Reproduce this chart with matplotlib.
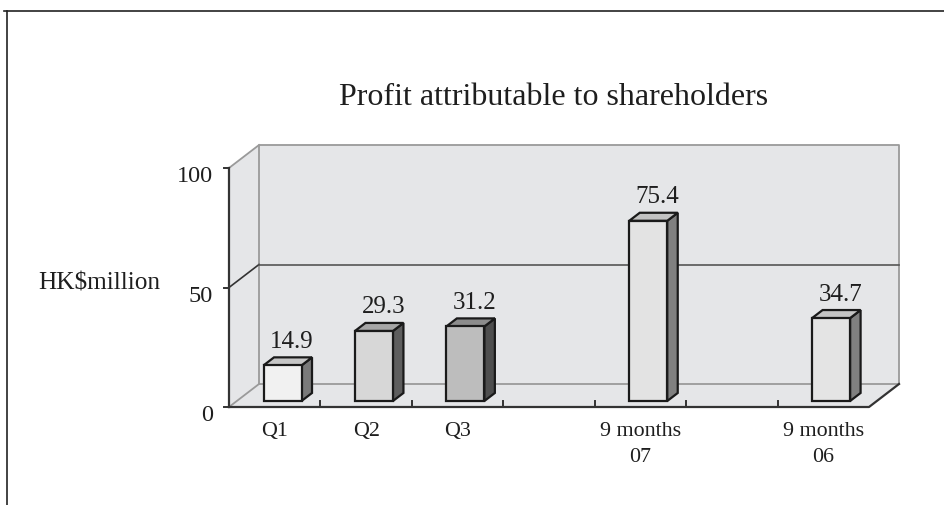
import matplotlib
matplotlib.use("Agg")
import matplotlib.pyplot as plt
from matplotlib.patches import Polygon
from matplotlib.lines import Line2D

# ---- data ----
categories = ["Q1", "Q2", "Q3", "", "9 months\n07", "", "9 months\n06"]
values = [14.9, 29.3, 31.2, None, 75.4, None, 34.7]
value_labels = ["14.9", "29.3", "31.2", "", "75.4", "", "34.7"]
yticks = [0, 50, 100]
title = "Profit attributable to shareholders"
ylabel = "HK$million"

# ---- styles ----
front_colors = ["#f1f1f1", "#d7d7d7", "#bdbdbd", None, "#e3e3e3", None, "#e4e4e4"]
top_colors = ["#c6c6c6", "#a6a6a6", "#8c8c8c", None, "#c2c2c2", None, "#c4c4c4"]
side_colors = ["#7a7a7a", "#5e5e5e", "#4e4e4e", None, "#808080", None, "#808080"]
wall_color = "#e5e6e8"
plt.rcParams['font.family'] = ['Liberation Serif', 'DejaVu Serif']
txt = "#1e1e1e"

W, H = 944, 506
fig = plt.figure(figsize=(W / 100, H / 100), dpi=100)
ax = fig.add_axes([0, 0, 1, 1])
ax.axis("off")

# layout: pixel anchors of the front plane
PX = 91.43          # px per category slot
PY = 2.39           # px per value unit
x0 = 229            # px of front-left axis
y0 = H - 408        # px (from bottom) of value 0 on front plane
nslots = len(categories)
ax.set_xlim(-x0 / PX, (W - x0) / PX)
ax.set_ylim(-y0 / PY, (H - y0) / PY)

DX = 30 / PX        # depth offset in data units
DY = 23 / PY
ymax = 100

# walls
ax.add_patch(Polygon([(DX, DY), (nslots + DX, DY), (nslots + DX, ymax + DY), (DX, ymax + DY)],
                     closed=True, fc=wall_color, ec="none", zorder=1))
ax.add_patch(Polygon([(0, 0), (DX, DY), (DX, ymax + DY), (0, ymax)],
                     closed=True, fc=wall_color, ec="none", zorder=1))
ax.add_patch(Polygon([(0, 0), (nslots, 0), (nslots + DX, DY), (DX, DY)],
                     closed=True, fc=wall_color, ec="none", zorder=1))

gray = "#9a9a9a"
dark = "#333333"
lw_g = 1.3
# back wall outline
ax.plot([DX, DX, nslots + DX, nslots + DX, DX], [DY, ymax + DY, ymax + DY, DY, DY],
        color=gray, lw=lw_g, zorder=2, solid_capstyle="butt")
# gridline at 50 on back wall + diagonals
for v in yticks:
    if v == 0 or v == ymax:
        ax.plot([0, DX], [v, v + DY], color=gray, lw=lw_g, zorder=2)
    else:
        ax.plot([0, DX], [v, v + DY], color=dark, lw=1.2, zorder=2)
        ax.plot([DX, nslots + DX], [v + DY, v + DY], color="#555555", lw=1.2, zorder=2)
# front axes
ax.plot([0, 0], [0, ymax], color=dark, lw=1.6, zorder=2)
ax.plot([0, nslots, nslots + DX], [0, 0, DY], color=dark, lw=1.6, zorder=2)
for v in yticks:
    ax.plot([-5 / PX, 0], [v, v], color=dark, lw=1.4, zorder=2)
    ax.text(-16 / PX, v - 13.5 / PY, str(v), ha="right", va="baseline",
            fontsize=17.5, color=txt)
for k in range(1, nslots):
    ax.plot([k, k], [0, 6 / PY], color=dark, lw=1.4, zorder=2)

# bars
f0 = 0.26
fd = 0.35
bw = 38 / PX
for i, (v, lab) in enumerate(zip(values, value_labels)):
    if v is None:
        continue
    c = i + 0.5
    xl = c - bw / 2 + f0 * DX
    xr = c + bw / 2 + f0 * DX
    yb = f0 * DY
    yt = yb + v
    bx, by = fd * DX, fd * DY
    kw = dict(closed=True, ec="#1a1a1a", lw=1.6, joinstyle="miter", zorder=5)
    ax.add_patch(Polygon([(xr, yb), (xr + bx, yb + by), (xr + bx, yt + by), (xr, yt)],
                         fc=side_colors[i], **kw))
    ax.add_patch(Polygon([(xl, yt), (xr, yt), (xr + bx, yt + by), (xl + bx, yt + by)],
                         fc=top_colors[i], **kw))
    ax.add_patch(Polygon([(xl, yb), (xr, yb), (xr, yt), (xl, yt)],
                         fc=front_colors[i], **kw))
    ax.text(c + (f0 + fd / 2) * DX + 4 / PX, yt + by + 10.5 / PY, lab,
            ha="center", va="baseline", fontsize=18, color=txt, zorder=6)

# category labels
for i, lab in enumerate(categories):
    for k, line in enumerate(lab.split("\n")):
        if not line:
            continue
        ax.text(i + 0.5, -(28 + 26 * k) / PY, line, ha="center", va="baseline",
                fontsize=15.8, color=txt)

# y label and title
ax.text(-(x0 - 38) / PX, -(290 - 408) / PY, ylabel, ha="left", va="baseline",
        fontsize=18.2, color=txt)
ax.text((554 - x0) / PX, (408 - 105) / PY, title, ha="center", va="baseline",
        fontsize=23, color=txt)

# outer frame (top and left edges)
fig.add_artist(Line2D([4 / W, 1], [1 - 11.5 / H, 1 - 11.5 / H], color="#222222", lw=1.2))
fig.add_artist(Line2D([7 / W, 7 / W], [0, 1 - 11.5 / H], color="#222222", lw=1.2))

fig.savefig("out.png", dpi=100)
